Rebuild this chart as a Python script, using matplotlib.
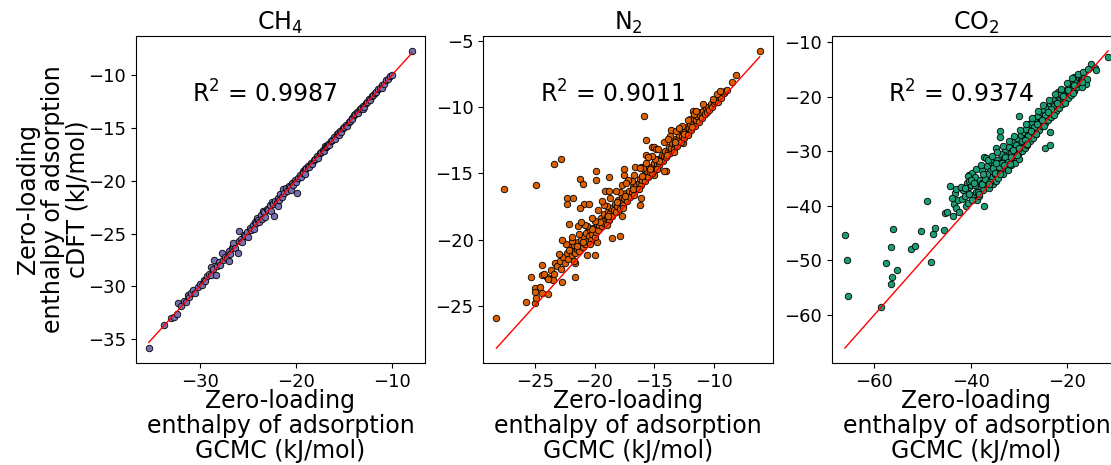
import matplotlib
matplotlib.use("Agg")
import matplotlib.pyplot as plt
import numpy as np

titles = ["CH$_4$", "N$_2$", "CO$_2$"]
r2_values = ["0.9987", "0.9011", "0.9374"]
colors = ["#7570b3", "#d95f02", "#1b9e77"]
xlabel_text = "Zero-loading\nenthalpy of adsorption\nGCMC (kJ/mol)"
ylabel_text = "Zero-loading\nenthalpy of adsorption\ncDFT (kJ/mol)"

# (GCMC, cDFT) pairs
ch4_points = [
    (-35.3, -35.85), (-33.7, -33.65), (-33.0, -33.0), (-32.7, -32.9), (-32.4, -32.6), (-32.3, -31.6),
    (-31.9, -31.9), (-31.6, -31.4), (-31.4, -31.5), (-31.2, -30.8), (-31.1, -31.0), (-30.9, -30.6),
    (-30.75, -30.3), (-30.5, -30.6), (-30.2, -30.1), (-30.0, -29.8), (-29.8, -29.9), (-29.6, -29.4),
    (-29.4, -29.5), (-29.2, -29.0), (-29.0, -28.8), (-28.8, -28.2), (-28.8, -28.9), (-28.6, -28.4),
    (-28.5, -27.55), (-28.35, -28.9), (-28.2, -28.1), (-28.0, -27.7), (-27.9, -28.0), (-27.7, -26.8),
    (-27.6, -27.5), (-27.4, -27.2), (-27.2, -27.3), (-27.0, -26.7), (-27.0, -27.6), (-26.8, -26.9),
    (-26.6, -26.4), (-26.5, -26.2), (-26.5, -25.9), (-26.3, -26.4), (-26.05, -26.8), (-25.95, -24.8),
    (-25.9, -25.7), (-25.7, -25.5), (-25.6, -25.8), (-25.4, -25.1), (-25.3, -25.2), (-25.1, -24.9),
    (-25.0, -25.3), (-24.8, -24.5), (-24.7, -24.7), (-24.5, -24.2), (-24.4, -24.6), (-24.2, -23.9),
    (-24.1, -24.0), (-24.0, -23.5), (-23.9, -23.7), (-23.8, -23.9), (-23.6, -23.2), (-23.5, -23.6),
    (-23.4, -22.9), (-23.3, -23.0), (-23.2, -23.4), (-23.0, -22.7), (-22.9, -22.8), (-22.7, -22.3),
    (-22.6, -22.9), (-22.5, -22.0), (-22.4, -22.2), (-22.3, -23.3), (-22.2, -21.9), (-22.0, -22.1),
    (-21.9, -21.6), (-21.8, -22.4), (-21.7, -21.8), (-21.6, -21.3), (-21.4, -21.5), (-21.3, -20.8),
    (-21.2, -21.2), (-21.0, -20.7), (-20.9, -21.0), (-20.7, -20.5), (-20.6, -20.6), (-20.5, -20.9),
    (-20.4, -20.2), (-20.3, -20.4), (-20.1, -19.9), (-20.0, -20.1), (-19.9, -21.2), (-19.8, -19.7),
    (-19.6, -19.5), (-19.5, -19.6), (-19.3, -19.1), (-19.2, -19.3), (-19.0, -18.9), (-19.0, -19.4),
    (-18.9, -18.8), (-18.7, -18.6), (-18.6, -18.7), (-18.4, -18.3), (-18.3, -18.4), (-18.1, -18.0),
    (-18.0, -17.9), (-17.8, -17.7), (-17.7, -17.8), (-17.5, -17.4), (-17.4, -17.3), (-17.2, -17.1),
    (-17.1, -17.2), (-17.0, -16.7), (-16.9, -16.8), (-16.8, -16.7), (-16.6, -16.5), (-16.5, -16.6),
    (-16.3, -16.2), (-16.2, -16.1), (-16.0, -15.9), (-15.9, -16.0), (-15.7, -15.6), (-15.6, -15.5),
    (-15.5, -15.7), (-15.4, -15.3), (-15.3, -15.4), (-15.1, -15.0), (-15.0, -14.9), (-14.8, -14.7),
    (-14.7, -14.8), (-14.5, -14.4), (-14.4, -14.3), (-14.2, -14.1), (-14.1, -14.2), (-13.9, -13.8),
    (-13.8, -13.7), (-13.6, -13.5), (-13.5, -13.6), (-13.3, -13.2), (-13.2, -13.1), (-13.0, -12.9),
    (-13.0, -13.2), (-12.9, -13.0), (-12.7, -12.6), (-12.6, -12.5), (-12.4, -12.3), (-12.3, -12.4),
    (-12.1, -12.0), (-12.0, -11.9), (-11.8, -11.7), (-11.6, -11.6), (-11.4, -11.3), (-11.2, -11.2),
    (-11.0, -10.9), (-11.0, -11.2), (-10.8, -10.8), (-10.6, -10.5), (-10.4, -10.4), (-10.2, -10.1),
    (-10.0, -10.0), (-7.9, -7.7),
]

n2_points = [
    # outliers and loose points
    (-28.2, -25.9), (-27.6, -16.2), (-24.9, -15.9), (-23.4, -14.3), (-22.8, -13.9), (-15.9, -10.7),
    (-25.7, -24.75), (-25.0, -24.8), (-25.3, -22.85), (-25.0, -23.65), (-25.0, -23.95), (-24.9, -24.4),
    (-24.4, -24.0), (-23.9, -24.1), (-24.4, -21.9), (-24.4, -22.65), (-24.0, -22.85), (-23.7, -23.0),
    (-23.5, -23.05), (-23.3, -21.8), (-22.7, -23.2), (-21.6, -22.85), (-21.6, -21.75), (-22.1, -18.8),
    (-22.3, -16.9), (-22.3, -17.3), (-21.8, -16.9), (-21.4, -19.0), (-21.2, -15.4), (-21.0, -15.8),
    (-20.9, -17.3), (-21.2, -17.6), (-20.5, -17.3), (-19.9, -14.8), (-19.9, -15.5), (-20.6, -21.15),
    (-20.0, -21.2), (-19.8, -20.2), (-19.1, -16.3), (-18.8, -16.3), (-18.8, -15.3), (-18.5, -19.9),
    (-17.9, -19.7), (-17.7, -18.2), (-17.5, -14.7), (-17.5, -15.1), (-16.6, -14.5), (-16.1, -14.5),
    (-16.2, -17.4), (-16.1, -16.9), (-15.7, -12.5), (-15.7, -13.6), (-15.2, -13.0), (-15.0, -13.0),
    (-15.0, -15.1), (-14.0, -14.8), (-13.6, -11.7), (-12.6, -12.7), (-11.8, -10.3), (-14.9, -13.2),
    (-14.2, -14.8), (-12.0, -10.9),
    # main band
    (-24.6, -23.6), (-24.2, -22.6), (-23.9, -23.0), (-23.6, -22.3), (-23.4, -22.6), (-23.1, -22.0),
    (-22.9, -21.6), (-22.8, -22.2), (-22.6, -21.3), (-22.5, -21.8), (-22.3, -21.0), (-22.2, -21.5),
    (-22.0, -20.6), (-21.9, -21.2), (-21.8, -20.9), (-21.7, -20.4), (-21.6, -21.0), (-21.5, -20.7),
    (-21.4, -20.2), (-21.3, -20.9), (-21.2, -20.5), (-21.1, -20.0), (-21.0, -20.6), (-20.9, -19.8),
    (-20.8, -20.3), (-20.7, -19.5), (-20.6, -20.1), (-20.5, -19.7), (-20.4, -19.3), (-20.3, -20.0),
    (-20.2, -19.6), (-20.1, -19.1), (-20.0, -19.8), (-19.9, -19.4), (-19.8, -18.8), (-19.7, -19.3),
    (-19.6, -18.9), (-19.5, -18.4), (-19.4, -19.0), (-19.3, -18.6), (-19.2, -18.1), (-19.1, -18.8),
    (-19.0, -18.3), (-18.9, -17.9), (-18.8, -18.5), (-18.7, -18.0), (-18.6, -17.6), (-18.5, -18.2),
    (-18.4, -17.8), (-18.3, -17.3), (-18.2, -17.9), (-18.1, -17.5), (-18.0, -17.0), (-17.9, -17.7),
    (-17.8, -17.2), (-17.7, -16.8), (-17.6, -17.4), (-17.5, -16.9), (-17.4, -16.5), (-17.3, -17.1),
    (-17.2, -16.6), (-17.1, -16.3), (-17.0, -16.8), (-16.9, -16.4), (-16.8, -16.0), (-16.7, -16.6),
    (-16.6, -16.1), (-16.5, -15.8), (-16.4, -16.2), (-16.3, -15.7), (-16.2, -15.4), (-16.1, -15.9),
    (-16.0, -15.5), (-15.9, -15.1), (-15.8, -15.6), (-15.7, -15.2), (-15.6, -14.8), (-15.5, -15.3),
    (-15.4, -14.9), (-15.3, -14.5), (-15.2, -15.0), (-15.1, -14.6), (-15.0, -14.2), (-14.9, -14.7),
    (-14.8, -14.3), (-14.7, -13.9), (-14.6, -14.4), (-14.5, -14.0), (-14.4, -13.6), (-14.3, -14.1),
    (-14.2, -13.7), (-14.1, -13.3), (-14.0, -13.8), (-13.9, -13.4), (-13.8, -13.0), (-13.7, -13.5),
    (-13.6, -13.1), (-13.5, -12.7), (-13.4, -13.2), (-13.3, -12.8), (-13.2, -12.4), (-13.1, -12.9),
    (-13.0, -12.5), (-12.9, -12.1), (-12.8, -12.6), (-12.7, -12.2), (-12.6, -11.9), (-12.5, -12.3),
    (-12.4, -11.8), (-12.3, -11.5), (-12.2, -12.0), (-12.1, -11.6), (-12.0, -11.3), (-11.9, -11.7),
    (-11.8, -11.2), (-11.7, -10.9), (-11.6, -11.4), (-11.5, -11.0), (-11.4, -10.7), (-11.3, -11.1),
    (-11.2, -10.6), (-11.1, -10.4), (-11.0, -10.8), (-10.9, -10.3), (-10.8, -10.5), (-10.7, -10.1),
    (-10.6, -10.4), (-10.5, -10.0), (-10.4, -10.2), (-10.3, -9.8), (-10.2, -10.0), (-10.0, -9.7),
    (-9.9, -9.5), (-9.7, -9.6), (-9.6, -9.2), (-9.4, -9.3), (-9.2, -8.9), (-9.1, -8.8),
    (-8.9, -8.7), (-8.5, -8.1), (-8.2, -7.6), (-6.2, -5.75),
    (-20.95, -20.2), (-20.25, -19.2), (-19.55, -18.7), (-18.85, -18.2), (-18.15, -17.2), (-17.45, -16.7),
    (-16.75, -16.2), (-16.05, -15.2), (-15.35, -14.7), (-14.65, -14.1), (-13.95, -13.6), (-13.25, -12.6),
    (-12.55, -12.0), (-11.85, -11.5), (-22.15, -20.8), (-21.45, -20.5), (-17.85, -16.4), (-16.85, -15.6),
    (-15.95, -14.6), (-14.95, -13.9), (-18.95, -17.5), (-19.95, -18.6), (-20.65, -19.0), (-21.85, -20.1),
    (-23.0, -21.1), (-22.4, -20.3), (-21.9, -19.8), (-21.3, -19.6), (-20.8, -18.9), (-20.2, -18.4),
    (-19.7, -17.8), (-19.2, -17.4), (-18.7, -16.9), (-18.2, -16.3), (-17.7, -15.9), (-17.2, -15.5),
    (-16.7, -15.1), (-16.2, -14.6), (-15.7, -14.2), (-15.2, -13.7), (-14.7, -13.2), (-14.2, -12.6),
    (-13.7, -12.2), (-13.2, -11.8), (-12.7, -11.4), (-12.2, -11.0), (-11.7, -10.5), (-22.7, -20.0),
    (-21.1, -18.7), (-19.4, -17.1), (-17.4, -15.7), (-15.5, -13.8), (-13.9, -12.4), (-12.9, -11.6),
    (-11.5, -10.3), (-10.9, -9.8), (-10.1, -9.4), (-9.8, -9.0), (-9.5, -8.8),
    (-20.4, -20.3), (-19.0, -18.9), (-17.6, -17.6), (-16.3, -16.2), (-14.8, -14.7), (-13.4, -13.4),
    (-21.7, -21.6), (-12.2, -12.1),
]

co2_points = [
    # outliers and loose points
    (-66.1, -45.3), (-65.7, -50.0), (-65.4, -56.6), (-58.7, -58.5), (-57.65, -50.5), (-56.6, -54.4),
    (-56.3, -53.0), (-56.5, -47.6), (-56.1, -44.2), (-55.3, -51.8), (-52.5, -48.0), (-51.6, -47.4),
    (-50.4, -44.7), (-49.0, -39.2), (-48.2, -50.4), (-47.8, -45.2), (-47.5, -44.1), (-45.6, -44.5),
    (-45.4, -41.3), (-45.0, -41.1), (-44.25, -36.4), (-43.8, -41.8), (-43.6, -39.6), (-43.0, -40.4),
    (-42.5, -41.2), (-42.6, -38.9), (-43.2, -37.7), (-41.85, -38.8), (-41.3, -38.3), (-41.0, -40.0),
    (-40.6, -39.5), (-41.6, -37.1), (-40.9, -35.9), (-40.4, -36.6), (-39.9, -36.2), (-39.6, -38.0),
    (-39.0, -37.4), (-38.7, -38.9), (-38.4, -38.3), (-40.3, -34.4), (-39.7, -34.0), (-39.2, -34.7),
    (-40.5, -34.5), (-40.4, -35.5), (-37.3, -40.1), (-37.2, -31.0), (-36.8, -31.2),
    (-34.9, -29.5), (-33.9, -26.3), (-33.9, -27.4), (-30.0, -23.6), (-24.7, -29.5), (-23.6, -28.9),
    (-23.6, -26.5), (-21.9, -19.2),
    # main band
    (-38.2, -35.3), (-38.0, -36.6), (-37.8, -33.5), (-37.6, -35.9), (-37.4, -37.2), (-37.1, -34.3),
    (-36.9, -36.1), (-36.7, -32.8), (-36.5, -35.0), (-36.3, -36.8), (-36.1, -33.6), (-35.9, -31.9),
    (-35.7, -34.7), (-35.5, -36.0), (-35.3, -32.6), (-35.1, -34.1), (-34.9, -35.4), (-34.7, -31.6),
    (-34.5, -33.4), (-34.3, -34.9), (-34.1, -32.1), (-33.9, -33.6), (-33.7, -30.6), (-33.5, -32.4),
    (-33.3, -34.2), (-33.1, -31.2), (-32.9, -29.6), (-32.7, -32.9), (-32.5, -30.8), (-32.3, -33.5),
    (-32.1, -29.2), (-31.9, -31.5), (-31.7, -32.6), (-31.5, -29.9), (-31.3, -28.3), (-31.1, -31.0),
    (-30.9, -32.2), (-30.7, -29.4), (-30.5, -27.6), (-30.3, -30.6), (-30.1, -31.4), (-29.9, -28.8),
    (-29.7, -27.0), (-29.5, -30.0), (-29.3, -28.4), (-29.1, -26.4), (-28.9, -29.4), (-28.7, -27.7),
    (-28.5, -25.9), (-28.3, -28.8), (-28.1, -27.1), (-27.9, -25.1), (-27.7, -28.1), (-27.5, -26.4),
    (-27.3, -24.7), (-27.1, -27.5), (-26.9, -25.8), (-26.7, -24.0), (-26.5, -26.8), (-26.3, -25.2),
    (-26.1, -23.5), (-25.9, -26.1), (-25.7, -24.6), (-25.5, -22.9), (-25.3, -25.4), (-25.1, -24.1),
    (-24.9, -22.4), (-24.7, -24.8), (-24.5, -23.5), (-24.3, -21.9), (-24.1, -24.3), (-23.9, -22.9),
    (-23.7, -21.4), (-23.5, -23.7), (-23.3, -22.3), (-23.1, -20.9), (-22.9, -23.1), (-22.7, -21.8),
    (-22.5, -20.4), (-22.3, -22.6), (-22.1, -21.2), (-21.9, -19.9), (-21.7, -22.0), (-21.5, -20.7),
    (-21.3, -19.5), (-21.1, -21.4), (-20.9, -20.2), (-20.7, -19.0), (-20.5, -20.9), (-20.3, -19.7),
    (-20.1, -18.6), (-19.9, -20.3), (-19.7, -19.1), (-19.5, -18.2), (-19.3, -19.7), (-19.1, -18.6),
    (-18.9, -17.7), (-18.7, -19.0), (-18.5, -18.0), (-18.6, -16.4), (-18.3, -17.3), (-18.1, -18.3),
    (-17.9, -16.2), (-17.7, -16.5), (-17.5, -17.6), (-17.3, -16.8), (-17.1, -16.2), (-16.9, -17.0),
    (-16.6, -16.5), (-16.2, -17.7), (-16.9, -18.3), (-16.0, -16.8), (-15.05, -14.1), (-14.35, -14.8),
    (-14.0, -15.2), (-11.6, -12.7),
    (-40.4, -37.8), (-39.1, -36.2), (-37.8, -36.0), (-36.6, -34.2), (-35.4, -33.0), (-34.2, -32.9),
    (-33.0, -31.0), (-31.8, -30.4), (-30.6, -28.9), (-29.4, -28.1), (-28.2, -27.2), (-27.0, -25.6),
    (-25.8, -24.9), (-24.6, -23.3), (-23.4, -22.3), (-22.2, -21.1), (-21.0, -19.9), (-19.8, -18.7),
    (-18.6, -17.8), (-37.0, -35.1), (-35.0, -34.0), (-33.6, -32.1), (-32.4, -31.9), (-31.2, -29.8),
    (-30.0, -29.4), (-28.8, -27.9), (-27.6, -26.3), (-26.4, -25.1), (-25.2, -24.2), (-24.0, -22.9),
    (-38.6, -37.4), (-36.0, -35.6), (-34.8, -32.2), (-33.2, -32.6), (-31.6, -31.0),
    (-44.0, -38.5), (-43.0, -37.0), (-42.0, -36.5), (-41.2, -36.8), (-40.0, -35.2), (-39.4, -35.9),
    (-38.9, -33.2), (-38.0, -32.6), (-37.5, -34.2), (-36.4, -31.7), (-35.6, -30.8), (-34.6, -30.1),
    (-33.4, -29.0), (-32.2, -28.1), (-31.0, -27.3), (-29.8, -26.1), (-28.6, -25.0), (-27.4, -23.9),
    (-26.2, -22.7), (-25.0, -21.6), (-23.8, -20.6), (-22.6, -19.6), (-21.4, -18.6), (-20.2, -17.5),
    (-19.0, -16.6), (-17.8, -15.8), (-16.8, -15.4), (-15.8, -14.9), (-39.8, -39.0), (-38.3, -37.8),
    (-36.2, -36.0), (-34.0, -34.1), (-32.0, -32.3), (-30.4, -30.7), (-28.4, -28.6), (-26.6, -26.9),
    (-24.8, -25.3), (-22.8, -23.3), (-20.6, -21.1), (-18.8, -19.3), (-17.0, -17.4),
]

datasets = [ch4_points, n2_points, co2_points]

fig = plt.figure(figsize=(11.11, 4.65), dpi=100)
lefts = [0.1221, 0.4350, 0.7486]
bottom, width, height = 0.2194, 0.2606, 0.7032

for i, pts in enumerate(datasets):
    ax = fig.add_axes([lefts[i], bottom, width, height])
    gcmc = np.array([p[0] for p in pts])
    cdft = np.array([p[1] for p in pts])
    ax.scatter(gcmc, cdft, s=22, c=colors[i], edgecolors="black", linewidths=0.6)
    lo, hi = gcmc.min(), gcmc.max()
    ax.plot([lo, hi], [lo, hi], color="red", lw=1)
    ax.set_title(titles[i], fontsize=17, pad=3)
    ax.text(0.195, 0.7975, "R$^2$ = " + r2_values[i], transform=ax.transAxes,
            fontsize=17, va="baseline", ha="left")
    ax.set_xlabel(xlabel_text, fontsize=17, labelpad=-1.5, linespacing=1.06)
    if i == 0:
        ax.set_ylabel(ylabel_text, fontsize=17, labelpad=-1.5, linespacing=1.06)
    ax.tick_params(labelsize=13)

fig.savefig("out.png", dpi=100)
